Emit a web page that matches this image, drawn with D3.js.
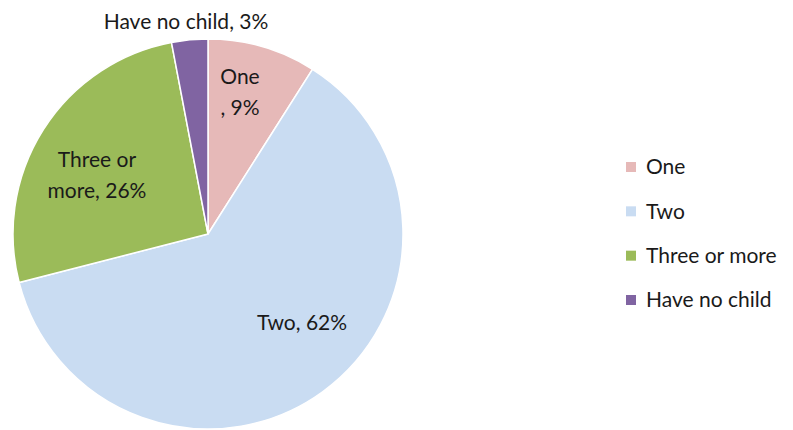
<!DOCTYPE html>
<html><head><meta charset="utf-8">
<script src="https://cdn.jsdelivr.net/npm/d3@7"></script>
<style>body{margin:0;background:#fff;} svg{display:block;}</style>
</head><body>
<svg id="chart" width="793" height="430"></svg>
<script>
const categories = ["One", "Two", "Three or more", "Have no child"];
const values = [9, 62, 26, 3];
const colors = ["#e6b9b8", "#c9dcf2", "#9bbb59", "#8064a2"];
const labelLines = [["One", ", 9%"], ["Two, 62%"], ["Three or", "more, 26%"], ["Have no child, 3%"]];

const svg = d3.select("#chart");
const cx = 208, cy = 234, r = 195;
const font = "Lato, 'Open Sans', sans-serif";

const pie = d3.pie().sort(null).value(d => d)(values);
const arc = d3.arc().innerRadius(0).outerRadius(r);

const g = svg.append("g").attr("transform", `translate(${cx},${cy})`);
g.selectAll("path").data(pie).join("path")
  .attr("d", arc)
  .attr("fill", (d, i) => colors[i])
  .attr("stroke", "#fff")
  .attr("stroke-width", 1.5);

// labels
const labelPos = [
  {x: 240, y: 77},
  {x: 302, y: 323},
  {x: 97, y: 160},
  {x: 186, y: 22}
];
const fs = 21;
labelLines.forEach((lines, i) => {
  const t = svg.append("text")
    .attr("x", labelPos[i].x).attr("y", labelPos[i].y)
    .attr("text-anchor", "middle")
    .attr("font-family", font).attr("font-size", fs)
    .attr("fill", "#1a1a1a");
  lines.forEach((l, j) => {
    t.append("tspan").attr("x", labelPos[i].x).attr("dy", j === 0 ? "0.35em" : 31).text(l);
  });
});

// legend
const ly = d3.scalePoint().domain(categories).range([167, 300]);
const leg = svg.append("g");
categories.forEach((c, i) => {
  leg.append("rect").attr("x", 626).attr("y", ly(c) - 5).attr("width", 10).attr("height", 10).attr("fill", colors[i]);
  leg.append("text").attr("x", 646).attr("y", ly(c)).attr("dy", "0.35em")
    .attr("font-family", font).attr("font-size", 21).attr("fill", "#1a1a1a").text(c);
});
</script>
</body></html>
